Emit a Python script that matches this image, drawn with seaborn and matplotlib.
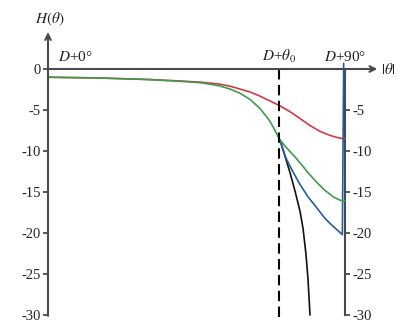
import numpy as np
import pandas as pd
import matplotlib
matplotlib.use("Agg")
import matplotlib.pyplot as plt
import seaborn as sns

# ---- data (theta in degrees, H in dB) ----
theta0 = 70
red_theta = [0, 15.8, 30.9, 40.0, 46.1, 49.1, 52.1, 55.2, 58.2, 61.2, 64.2, 67.3, 70.3,
             73.3, 76.4, 79.4, 82.4, 85.5, 87.6, 89.4, 90.0]
red_h     = [-1.0, -1.1, -1.28, -1.46, -1.6, -1.72, -1.85, -2.1, -2.45, -2.8, -3.3, -3.9, -4.5,
             -5.2, -6.05, -6.9, -7.6, -8.1, -8.35, -8.5, -8.5]

green_theta = [0, 15.8, 30.9, 40.0, 46.1, 49.1, 52.1, 55.2, 58.2, 61.2, 64.2, 66.0, 67.3, 68.8, 70.3,
               72.5, 74.8, 76.9, 78.9, 81.4, 83.9, 86.5, 88.5, 89.5, 90.0]
green_h     = [-1.0, -1.1, -1.3, -1.5, -1.67, -1.85, -2.07, -2.45, -2.96, -3.7, -4.8, -5.7, -6.4, -7.5, -8.66,
               -9.7, -10.7, -11.7, -12.7, -13.8, -14.8, -15.6, -16.0, -16.1, -16.1]

blue_theta = [70.3, 71.2, 72.1, 73.9, 76.4, 78.8, 81.2, 83.9, 85.5, 87.0, 89.2, 89.6]
blue_h     = [-8.66, -9.8, -10.85, -12.3, -14.1, -15.6, -16.8, -18.2, -18.85, -19.4, -20.2, 0.7]

black_theta = [70.3, 71.8, 73.3, 74.8, 76.4, 77.3, 78.2, 78.8, 79.4]
black_h     = [-8.66, -10.6, -12.6, -14.8, -17.4, -19.5, -22.7, -25.7, -30.0]

left_ticks = [0, -5, -10, -15, -20, -25, -30]
left_labels = ["0", "-5", "-10", "-15", "-20", "-25", "-30"]
right_ticks = [-5, -10, -15, -20, -25, -30]
right_labels = ["-5", "-10", "-15", "-20", "-25", "-30"]

colors = {"red": "#d23a45", "green": "#3f9a4c", "blue": "#235f9e", "black": "#111111"}
axis_gray = "#4a4a4a"

sns.set_style("white")
plt.rcParams["font.family"] = ["Liberation Serif", "DejaVu Serif"]
plt.rcParams["mathtext.fontset"] = "stix"

fig = plt.figure(figsize=(4.03, 3.32), dpi=100)
ax = fig.add_axes([48 / 403, 17 / 332, 297 / 403, 246 / 332])

for th, h, c in [(red_theta, red_h, colors["red"]),
                 (black_theta, black_h, colors["black"]),
                 (blue_theta, blue_h, colors["blue"]),
                 (green_theta, green_h, colors["green"])]:
    sns.lineplot(x=th, y=h, color=c, lw=1.2, ax=ax, sort=False, estimator=None)

for ln in ax.lines:
    ln.set_clip_on(False)
    ln.set_solid_joinstyle("round")

ax.set_xlim(0, 90)
ax.set_ylim(-30, 0)

# dashed reference line at theta0
ax.vlines(theta0, -30.3, 0, colors="black", linestyles=(0, (5, 2.6)), lw=1.5, clip_on=False)

for s in ["top", "bottom", "left", "right"]:
    ax.spines[s].set_visible(False)

ax.set_xticks([])
ax.set_yticks(left_ticks)
ax.set_yticklabels(left_labels)
ax.tick_params(axis="y", direction="out", length=3.5, width=1.3, color=axis_gray,
               labelsize=10.5, pad=1.5, labelcolor="#222222")

# arrows (axes)
ax.annotate("", xy=(0, 4.5), xytext=(0, -30.1), xycoords="data",
            arrowprops=dict(arrowstyle="->", lw=1.5, color=axis_gray, shrinkA=0, shrinkB=0,
                            mutation_scale=10), annotation_clip=False)
ax.annotate("", xy=(99.8, 0), xytext=(0, 0), xycoords="data",
            arrowprops=dict(arrowstyle="->", lw=1.5, color=axis_gray, shrinkA=0, shrinkB=0,
                            mutation_scale=10), annotation_clip=False)

# right axis
ax2 = ax.twinx()
ax2.set_ylim(-30, 0)
for s in ["top", "bottom", "left"]:
    ax2.spines[s].set_visible(False)
ax2.spines["right"].set_color(axis_gray)
ax2.spines["right"].set_linewidth(1.5)
ax2.set_yticks(right_ticks)
ax2.set_yticklabels(right_labels)
ax2.tick_params(axis="y", direction="out", length=3.5, width=1.3, color=axis_gray,
                labelsize=10.5, pad=2, labelcolor="#222222")
ax2.set_zorder(ax.get_zorder() - 1)
ax.patch.set_visible(False)

# text labels
tk = dict(fontsize=11, color="#222222", clip_on=False)
ax.text(3.0, 1.0, "$D$+0°", ha="left", va="baseline", **tk)
ax.text(theta0, 1.0, "$D$+$\\theta_0$", ha="center", va="baseline", **tk)
ax.text(90.2, 1.0, "$D$+90°", ha="center", va="baseline", **tk)
ax.text(100.8, 0, "$|\\theta|$", ha="left", va="center", **tk)
ax.text(0.5, 6.1, "$H(\\theta)$", ha="center", va="center", **tk)

fig.savefig("out.png", dpi=100)
